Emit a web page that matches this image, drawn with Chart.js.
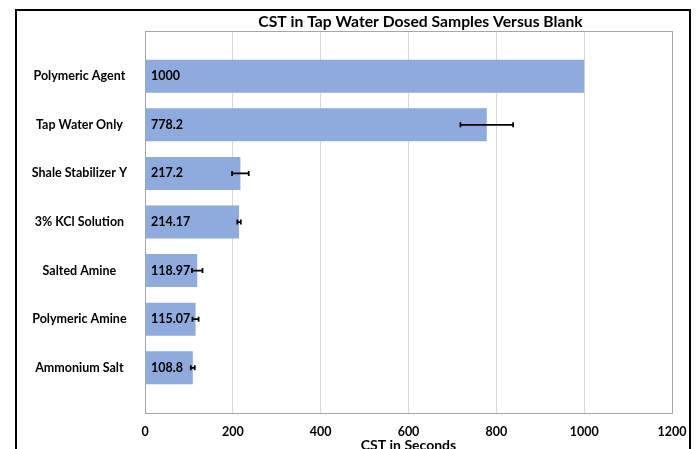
<!DOCTYPE html>
<html>
<head>
<meta charset="utf-8">
<script src="https://cdn.jsdelivr.net/npm/chart.js@4"></script>
<style>
  body { margin: 0; background: #fff; }
  #wrap { position: relative; width: 699px; height: 449px; overflow: hidden; }
  #frame { position: absolute; left: 15px; top: 9px; width: 676px; height: 500px;
           border: 2px solid #000; box-sizing: border-box; pointer-events: none; }
</style>
</head>
<body>
<div id="wrap">
  <canvas id="cstChart" width="699" height="449"></canvas>
  <div id="frame"></div>
</div>
<script>
const categories = ["Polymeric Agent", "Tap Water Only", "Shale Stabilizer Y", "3% KCl Solution",
                    "Salted Amine", "Polymeric Amine", "Ammonium Salt"];
const cstValues = [1000, 778.2, 217.2, 214.17, 118.97, 115.07, 108.8];
const cstErrors = [0, 60, 19, 4, 12, 7, 4.5];
const xTicks = [0, 200, 400, 600, 800, 1000, 1200];

const titleText = "CST in Tap Water Dosed Samples Versus Blank";
const FONT = "Lato, 'Open Sans', sans-serif";

// plot area frame + main title
const framePlugin = {
    id: "frame",
    beforeDatasetsDraw(chart) {
        const a = chart.chartArea, ctx = chart.ctx;
        ctx.save();
        ctx.strokeStyle = "#a6a6a6";
        ctx.lineWidth = 1;
        ctx.strokeRect(a.left + 0.5, a.top + 0.5, a.right - a.left, a.bottom - a.top);
        ctx.restore();
    },
    afterDraw(chart) {
        const a = chart.chartArea, ctx = chart.ctx;
        ctx.save();
        ctx.fillStyle = "#000";
        ctx.font = "bold 15.7px " + FONT;
        ctx.textAlign = "center";
        ctx.textBaseline = "alphabetic";
        ctx.fillText(titleText, (a.left + a.right) / 2 + 12, 27);
        ctx.restore();
    }
};

// error bars and value labels
const barExtras = {
    id: "barExtras",
    afterDatasetsDraw(chart) {
        const ctx = chart.ctx;
        const xs = chart.scales.x;
        const meta = chart.getDatasetMeta(0);
        ctx.save();
        meta.data.forEach((bar, i) => {
            const e = cstErrors[i];
            if (e > 0) {
                const x1 = xs.getPixelForValue(cstValues[i] - e);
                const x2 = xs.getPixelForValue(cstValues[i] + e);
                ctx.strokeStyle = "#000";
                ctx.lineWidth = 1.75;
                ctx.beginPath();
                ctx.moveTo(x1, bar.y); ctx.lineTo(x2, bar.y);
                ctx.moveTo(x1, bar.y - 2.5); ctx.lineTo(x1, bar.y + 2.5);
                ctx.moveTo(x2, bar.y - 2.5); ctx.lineTo(x2, bar.y + 2.5);
                ctx.stroke();
            }
            ctx.fillStyle = "#000";
            ctx.font = "bold 12.5px " + FONT;
            ctx.textAlign = "left";
            ctx.textBaseline = "middle";
            ctx.fillText(String(cstValues[i]), xs.getPixelForValue(0) + 6, bar.y);
        });
        ctx.restore();
    }
};

new Chart(document.getElementById("cstChart"), {
    type: "bar",
    data: {
        datasets: [{
            data: cstValues.map((v, i) => ({ x: v, y: i })),
            backgroundColor: "#8faadc",
            borderWidth: 0,
            categoryPercentage: 0.8,
            barPercentage: 0.85
        }]
    },
    options: {
        indexAxis: "y",
        responsive: false,
        animation: false,
        layout: { padding: { left: 15, right: 27, top: 31, bottom: 0 } },
        plugins: { legend: { display: false }, tooltip: { enabled: false } },
        scales: {
            x: {
                type: "linear",
                min: 0,
                max: 1200,
                afterBuildTicks: s => { s.ticks = xTicks.map(v => ({ value: v })); },
                afterFit: s => { s.height = 36; },
                grid: { color: "#d9d9d9", drawTicks: false },
                border: { color: "#a6a6a6" },
                ticks: {
                    color: "#000",
                    padding: 11,
                    font: { family: FONT, size: 12.5, weight: "bold" },
                    callback: v => String(v)
                },
                title: {
                    display: true,
                    text: "CST in Seconds",
                    color: "#000",
                    font: { family: FONT, size: 14, weight: "bold" },
                    padding: { top: 2, bottom: -5 }
                }
            },
            y: {
                type: "linear",
                reverse: true,
                offset: false,
                min: -0.93,
                max: categories.length - 0.07,
                afterBuildTicks: s => { s.ticks = categories.map((c, i) => ({ value: i })); },
                afterFit: s => { s.width = 130; },
                grid: { display: false, drawTicks: false },
                border: { display: true, color: "#595959", width: 1 },
                ticks: {
                    color: "#000",
                    crossAlign: "center",
                    padding: 18,
                    font: { family: FONT, size: 12.5, weight: "bold" },
                    callback: v => categories[v]
                }
            }
        }
    },
    plugins: [framePlugin, barExtras]
});
</script>
</body>
</html>
